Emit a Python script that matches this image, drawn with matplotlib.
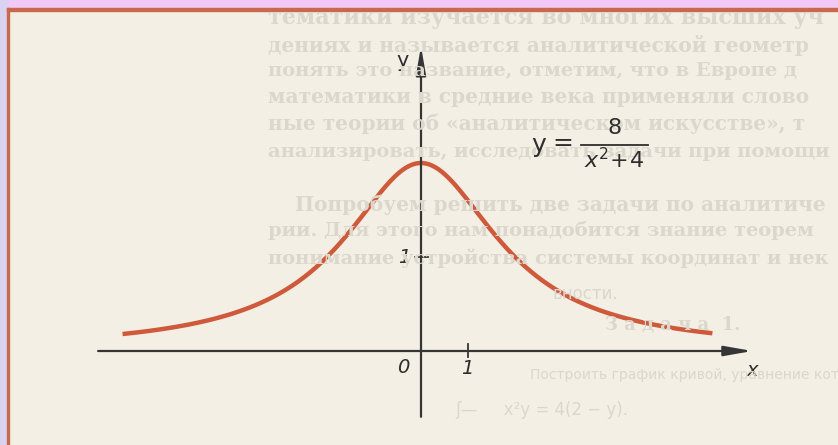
import numpy as np
import matplotlib
matplotlib.use("Agg")
import matplotlib.pyplot as plt
from matplotlib.patches import Rectangle
from matplotlib.lines import Line2D

# curve y = 8 / (x^2 + 4), drawn between these x limits
x_left = -6.35
x_right = 6.2
numerator = 8
shift = 4

# axis extents in graph units
x_axis_from, x_axis_to = -6.87, 7.05
y_axis_from, y_axis_to = -0.70, 3.24
x_ticks = [1]
y_ticks = [1]

# faint print-through from the neighbouring page: (text, x px, y px, size, bold)
ghost_lines = [
    ("тематики изучается во многих высших уч", 268, 18, 16, True),
    ("дениях и называется аналитической геометр", 268, 45, 14.5, True),
    ("понять это название, отметим, что в Европе д", 268, 71, 14, True),
    ("математики в средние века применяли слово", 268, 97, 14.5, True),
    ("ные теории об «аналитическом искусстве», т", 268, 124, 14.5, True),
    ("анализировать, исследовать задачи при помощи", 268, 152, 14, True),
    ("Попробуем решить две задачи по аналитиче", 295, 205, 14.5, True),
    ("рии. Для этого нам понадобится знание теорем", 268, 231, 14, True),
    ("понимание устройства системы координат и нек", 268, 258, 14, True),
    ("вности.", 552, 294, 12, False),
    ("З а д а ч а  1.", 605, 324, 13, True),
    ("Построить график кривой, уравнение которой", 530, 375, 10, False),
    ("ʃ—     x²y = 4(2 − y).", 455, 410, 12, False),
]

W, H = 838, 445
fig = plt.figure(figsize=(W / 100, H / 100), dpi=100)
fig.patch.set_facecolor("#f3efe4")

# page frame: pink strip on top, lavender strip on the left, thin red rules
fig.patches.append(Rectangle((0, 1 - 8 / H), 1, 8 / H, transform=fig.transFigure,
                             color="#f2c9f6", zorder=0))
fig.patches.append(Rectangle((0, 0), 7 / W, 1, transform=fig.transFigure,
                             color="#d9d3f1", zorder=0))
fig.patches.append(Rectangle((7 / W, 0), 2 / W, 1 - 8 / H, transform=fig.transFigure,
                             color="#c8684c", zorder=0))
fig.patches.append(Rectangle((7 / W, 1 - 11 / H), 1 - 7 / W, 3 / H, transform=fig.transFigure,
                             color="#c8684c", zorder=0))

for text, px, py, size, bold in ghost_lines:
    fig.text(px / W, 1 - py / H, text, ha="left", va="center", fontsize=size,
             family="DejaVu Serif" if bold else "DejaVu Sans",
             weight="bold" if bold else "normal", color="#dcd7cd", zorder=0)

# axes: origin at pixel (421, 351), 47 px per x unit, 94 px per y unit
ax = fig.add_axes([0, 0, 1, 1])
ax.set_xlim(-421 / 47, (W - 421) / 47)
ax.set_ylim((351 - H) / 94, 351 / 94)
ax.axis("off")
ax.patch.set_alpha(0)

axis_color = "#353535"
ink = "#2e2e2e"
arrow = dict(arrowstyle="-|>,head_length=1.7,head_width=0.3", lw=1.6,
             color=axis_color, shrinkA=0, shrinkB=0)
ax.annotate("", xy=(x_axis_to, 0), xytext=(x_axis_from, 0), arrowprops=arrow)
ax.annotate("", xy=(0, y_axis_to), xytext=(0, y_axis_from), arrowprops=arrow)

for t in x_ticks:
    ax.plot([t, t], [-0.06, 0.07], color=axis_color, lw=1.3)
    ax.text(t - 0.02, -0.19, str(t), ha="center", va="center", fontsize=14,
            style="italic", color=ink)
for t in y_ticks:
    ax.plot([-0.13, 0.15], [t, t], color=axis_color, lw=1.3)
    ax.text(-0.36, t - 0.01, str(t), ha="center", va="center", fontsize=14,
            style="italic", color=ink)

ax.text(-0.38, -0.18, "0", ha="center", va="center", fontsize=14,
        style="italic", color=ink)
ax.text(-0.40, 3.09, "y", ha="center", va="center", fontsize=15, color=ink)
ax.text(7.04, -0.21, "x", ha="center", va="center", fontsize=14,
        style="italic", color=ink)

# the curve
xs = np.linspace(x_left, x_right, 400)
ys = numerator / (xs ** 2 + shift)
ax.plot(xs, ys, color="#cf5a3b", lw=3.2, solid_capstyle="butt")

# formula label, set piece by piece
plt.rcParams["mathtext.fontset"] = "dejavusans"
fig.text(531 / W, 1 - 145 / H, "y", ha="left", va="center", fontsize=18, color=ink)
fig.text(552 / W, 1 - 143 / H, "=", ha="left", va="center", fontsize=18, color=ink)
fig.text(615 / W, 1 - 128 / H, "8", ha="center", va="center", fontsize=16, color=ink)
fig.lines.append(Line2D([581 / W, 648 / W], [1 - 145 / H, 1 - 145 / H],
                        transform=fig.transFigure, color=ink, lw=1.3))
fig.text(614 / W, 1 - 160 / H, r"$x^2\!+\!4$", ha="center", va="center",
         fontsize=16, color=ink)

fig.savefig("out.png", dpi=100, facecolor=fig.get_facecolor())
